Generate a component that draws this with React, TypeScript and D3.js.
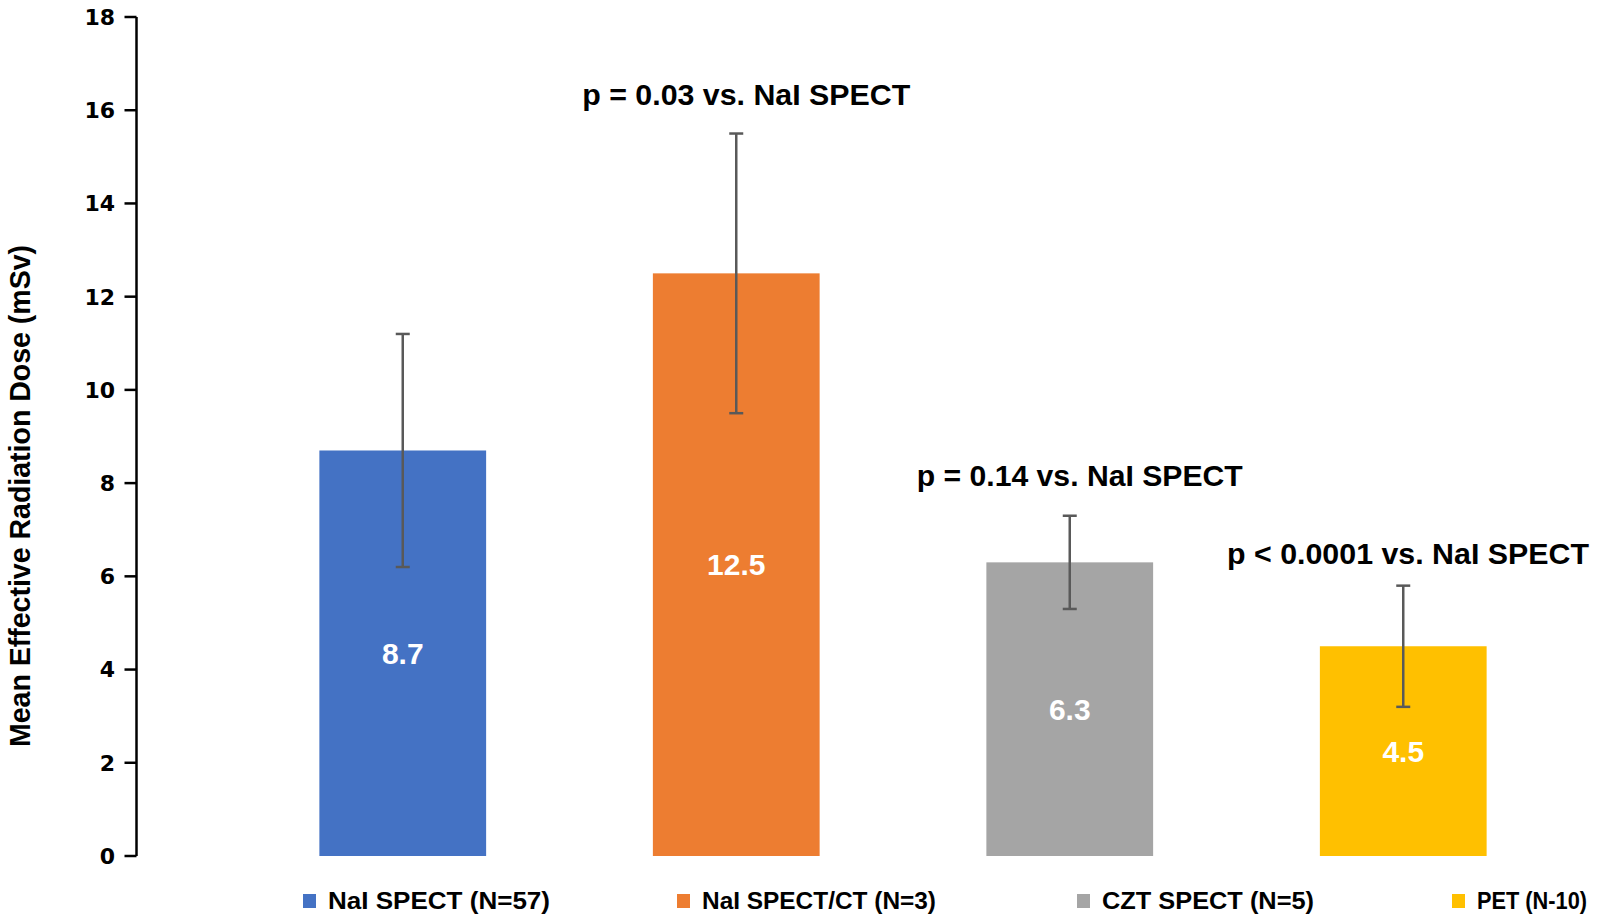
import React from "react";
import * as d3 from "d3";

const categories = ["NaI SPECT (N=57)", "NaI SPECT/CT (N=3)", "CZT SPECT (N=5)", "PET (N-10)"];
const values = [8.7, 12.5, 6.3, 4.5];
const errLow = [6.2, 9.5, 5.3, 3.2];
const errHigh = [11.2, 15.5, 7.3, 5.8];
const colors = ["#4472C4", "#ED7D31", "#A5A5A5", "#FFC000"];
const pLabels = [null, "p = 0.03 vs. NaI SPECT", "p = 0.14 vs. NaI SPECT", "p < 0.0001 vs. NaI SPECT"];
const yTicks = [0, 2, 4, 6, 8, 10, 12, 14, 16, 18];

const W = 1598;
const H = 920;
const narrow = "'Liberation Sans Narrow', 'Arial Narrow', 'Liberation Sans', sans-serif";

export default function App() {
  const y = d3.scaleLinear().domain([0, 18]).range([856, 17]);
  const x = d3.scaleBand().domain(categories).range([236, 1570]).paddingInner(0.5).paddingOuter(0.25);
  const axisX = 136.5;
  const legendX = [303, 677, 1077, 1452];
  const legendW = [222, 234, 212, 110];
  const pW = [0, 328, 326, 362];
  const pY = [0, 94, 475, 553];

  return (
    <svg width={W} height={H} style={{ position: "absolute", left: 0, top: 0, background: "#fff" }}>
      <rect x={0} y={0} width={W} height={H} fill="#fff" />
      {/* y axis */}
      <line x1={axisX} x2={axisX} y1={y(18)} y2={y(0)} stroke="#000" strokeWidth={2.5} />
      {yTicks.map((t) => (
        <g key={t}>
          <line x1={axisX - 12} x2={axisX} y1={y(t)} y2={y(t)} stroke="#000" strokeWidth={2.5} />
          <text x={115} y={y(t)} dy="0.36em" textAnchor="end" fontFamily="'DejaVu Sans', Verdana, sans-serif" fontWeight="bold" fontSize={22} fill="#000">
            {t}
          </text>
        </g>
      ))}
      <text
        transform={`translate(30, 496) rotate(-90)`}
        textAnchor="middle"
        fontFamily={narrow}
        fontWeight="bold"
        fontSize={30}
        textLength={502}
        lengthAdjust="spacingAndGlyphs"
        fill="#000"
      >
        Mean Effective Radiation Dose (mSv)
      </text>
      {/* bars */}
      {categories.map((c, i) => (
        <g key={c}>
          <rect x={x(c)} y={y(values[i])} width={x.bandwidth()} height={y(0) - y(values[i])} fill={colors[i]} />
          <text
            x={(x(c) as number) + x.bandwidth() / 2}
            y={(y(values[i]) + y(0)) / 2}
            dy="0.36em"
            textAnchor="middle"
            fontFamily={narrow}
            fontWeight="bold"
            fontSize={30}
            fill="#fff"
          >
            {values[i]}
          </text>
        </g>
      ))}
      {/* error bars */}
      {categories.map((c, i) => {
        const cx = (x(c) as number) + x.bandwidth() / 2;
        return (
          <g key={"e" + c} stroke="#595959" strokeWidth={2.5}>
            <line x1={cx} x2={cx} y1={y(errHigh[i])} y2={y(errLow[i])} />
            <line x1={cx - 7} x2={cx + 7} y1={y(errHigh[i])} y2={y(errHigh[i])} />
            <line x1={cx - 7} x2={cx + 7} y1={y(errLow[i])} y2={y(errLow[i])} />
          </g>
        );
      })}
      {/* p-values */}
      {categories.map((c, i) =>
        pLabels[i] ? (
          <text
            key={"p" + c}
            x={i === 3 ? 1408 : (x(c) as number) + x.bandwidth() / 2 + 10}
            y={pY[i]}
            dy="0.36em"
            textAnchor="middle"
            fontFamily={narrow}
            fontWeight="bold"
            fontSize={30}
            textLength={pW[i]}
            lengthAdjust="spacingAndGlyphs"
            fill="#000"
          >
            {pLabels[i]}
          </text>
        ) : null
      )}
      {/* legend */}
      {categories.map((c, i) => (
        <g key={"l" + c}>
          <rect x={legendX[i]} y={894} width={13} height={14} fill={colors[i]} />
          <text
            x={legendX[i] + 25}
            y={901}
            dy="0.36em"
            fontFamily={narrow}
            fontWeight="bold"
            fontSize={23}
            textLength={legendW[i]}
            lengthAdjust="spacingAndGlyphs"
            fill="#000"
          >
            {c}
          </text>
        </g>
      ))}
    </svg>
  );
}
